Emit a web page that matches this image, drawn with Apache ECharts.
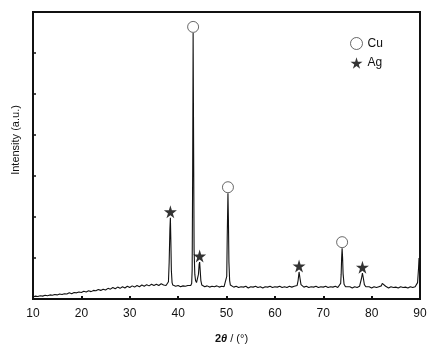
<!DOCTYPE html>
<html>
<head>
<meta charset="utf-8">
<script src="https://cdn.jsdelivr.net/npm/echarts@6/dist/echarts.min.js"></script>
<style>html,body{margin:0;padding:0;background:#fff}#c{width:438px;height:358px}</style>
</head>
<body>
<div id="c"></div>
<script>
// Diffraction pattern (2θ in degrees, intensity in arbitrary units)
const twoTheta = [
 10,10.5,11,11.5,12,12.5,13,13.5,14,14.5,15,15.5,16,16.5,17,17.5,18,18.5,19,19.5,
 20,20.5,21,21.5,22,22.5,23,23.5,24,24.5,25,25.5,26,26.5,27,27.5,28,28.5,29,29.5,
 30,30.5,31,31.5,32,32.5,33,33.5,34,34.5,35,35.5,36,36.5,37,37.5,
 37.8,38.0,38.15,38.3,38.4,38.5,38.6,38.75,38.9,
 39.0,39.5,40,40.5,41,41.5,42,42.4,
 42.6,42.8,42.9,43.0,43.1,43.2,43.3,43.45,43.6,43.8,44.0,44.2,44.35,44.45,44.55,44.7,44.9,
 45.0,45.5,46,46.5,47,47.5,48,48.5,49,49.5,
 49.9,50.05,50.15,50.3,50.4,50.5,50.65,50.8,
 51.0,51.5,52,52.5,53,53.5,54,54.5,55,55.5,56,56.5,57,57.5,58,58.5,59,59.5,60,60.5,
 61,61.5,62,62.5,63,63.5,64,64.4,64.6,64.8,65.0,65.2,65.4,65.7,
 66,66.5,67,67.5,68,68.5,69,69.5,70,70.5,71,71.5,72,72.5,73,73.4,
 73.6,73.7,73.8,73.9,74.0,74.1,74.3,74.6,
 75,75.5,76,76.5,77,77.5,77.7,77.9,78.1,78.3,78.5,78.8,
 79,79.5,80,80.5,81,81.5,82,82.2,82.4,82.6,82.9,83.2,83.5,
 84,84.5,85,85.5,86,86.5,87,87.5,88,88.5,89,89.3,89.5,89.7,89.8,89.9,90
];
const intensity = [
 5,7,6,8,7,9,8,10,9,11,10,12,11,13,12,15,13,16,15,17,
 16,19,17,20,18,21,20,23,21,24,22,26,24,28,25,29,26,30,27,31,
 28,32,29,33,30,34,31,35,32,36,33,36,33,37,34,33,
 35,42,90,170,198,140,70,40,34,
 34,31,33,30,32,31,33,32,
 33,38,70,300,649,380,120,60,45,40,42,60,85,90,72,45,34,
 33,30,32,29,31,30,32,29,31,30,
 33,55,150,258,190,90,45,34,
 32,29,31,28,30,29,31,27,30,29,31,28,30,27,30,29,31,28,30,29,
 31,28,30,28,31,29,31,30,33,45,66,50,35,31,
 29,31,28,30,29,31,28,30,29,31,28,30,29,31,28,30,
 38,60,100,124,100,62,36,30,
 28,30,27,30,28,31,35,50,63,50,35,30,
 28,30,27,30,28,30,32,38,41,37,31,29,27,
 30,28,29,27,30,28,29,27,30,28,30,31,40,75,100,98,95
];
const cuPeaks = [[43.1, 649], [50.3, 258], [73.9, 124]];
const agPeaks = [[38.4, 198], [44.45, 90], [65.0, 66], [78.1, 63]];
const xTicks = [10, 20, 30, 40, 50, 60, 70, 80, 90];

const pattern = twoTheta.map((t, i) => [t, intensity[i]]);
const starPath = 'path://M50,0 L61,35 L98,35 L68,57 L79,91 L50,70 L21,91 L32,57 L2,35 L39,35 Z';
const font = 'Liberation Sans, Arial, sans-serif';

const chart = echarts.init(document.getElementById('c'), null, {renderer: 'canvas'});
chart.setOption({
  animation: false,
  backgroundColor: '#fff',
  grid: {left: 33, right: 18, top: 12, bottom: 59, show: true, borderColor: '#111', borderWidth: 2, backgroundColor: 'transparent'},
  legend: {
    orient: 'vertical', left: 345, top: 32, itemWidth: 12, itemHeight: 12, itemGap: 7,
    textStyle: {fontFamily: font, fontSize: 12, color: '#111'},
    data: [
      {name: 'Cu', itemStyle: {borderWidth: 1, borderColor: '#444', color: '#fff'}},
      {name: 'Ag'}
    ]
  },
  xAxis: {
    type: 'value', min: xTicks[0], max: xTicks[xTicks.length - 1], interval: 10,
    axisLine: {show: true, lineStyle: {color: '#111', width: 2}},
    axisTick: {show: true, inside: true, length: 3, lineStyle: {color: '#111', width: 2}},
    axisLabel: {fontFamily: font, fontSize: 12, color: '#111', margin: 9},
    splitLine: {show: false},
    name: '{b|2}{t|θ}{n| / (°)}', nameLocation: 'middle', nameGap: 34,
    nameTextStyle: {
      padding: [0, 0, 0, 10],
      rich: {
        b: {fontFamily: font, fontSize: 11, fontWeight: 'bold', color: '#111'},
        t: {fontFamily: font, fontSize: 11, fontWeight: 'bold', fontStyle: 'italic', color: '#111'},
        n: {fontFamily: font, fontSize: 11, color: '#111'}
      }
    }
  },
  yAxis: {
    type: 'value', min: 0, max: 700, interval: 100,
    axisLine: {show: true, lineStyle: {color: '#111', width: 2}},
    axisTick: {show: true, inside: true, length: 3, lineStyle: {color: '#111', width: 1.5}},
    axisLabel: {show: false},
    splitLine: {show: false}
  },
  graphic: [{
    type: 'text', x: 16, y: 140, rotation: Math.PI / 2,
    style: {text: 'Intensity (a.u.)', font: '11px ' + font, fill: '#111', textAlign: 'center', textVerticalAlign: 'middle'}
  }],
  series: [
    {
      type: 'line', name: 'pattern', data: pattern, showSymbol: false, symbol: 'none',
      lineStyle: {color: '#111', width: 1.1}, z: 2
    },
    {
      type: 'scatter', name: 'Cu', data: cuPeaks, symbol: 'circle', symbolSize: 11, symbolOffset: [0, -6],
      itemStyle: {color: '#fff', borderColor: '#444', borderWidth: 1}, z: 3
    },
    {
      type: 'scatter', name: 'Ag', data: agPeaks, symbol: starPath, symbolSize: 13, symbolOffset: [0, -6],
      itemStyle: {color: '#000'}, z: 3
    }
  ]
});
</script>
</body>
</html>
